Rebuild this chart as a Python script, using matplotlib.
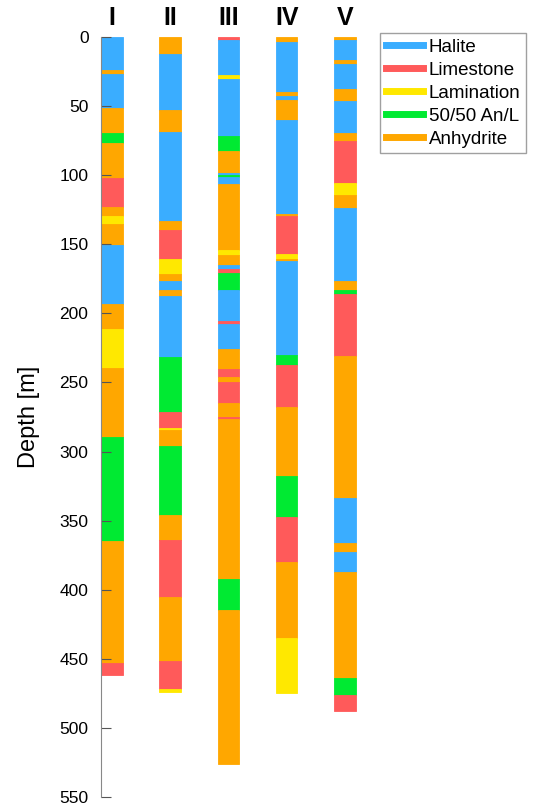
import matplotlib.pyplot as plt
from matplotlib.lines import Line2D

plt.rcParams['font.family'] = ['Liberation Sans', 'DejaVu Sans']

colors = {'H': '#3aadff', 'L': '#ff5a5a', 'Y': '#ffe800', 'G': '#00ea32', 'A': '#ffa700'}
names = {'H': 'Halite', 'L': 'Limestone', 'Y': 'Lamination', 'G': '50/50 An/L', 'A': 'Anhydrite'}

wells = ['I', 'II', 'III', 'IV', 'V']

# layer boundaries [m] and lithology per layer
depth_I = [0, 23.9, 26.5, 51.6, 69.4, 76.9, 101.9, 122.9, 129.4, 135.4, 150.8,
           193.3, 211, 239.5, 289.6, 364.6, 453.3, 461.9]
lith_I = 'HAHAGALAYAHAYAGAL'

depth_II = [0, 12.3, 53, 68.4, 132.8, 139.5, 160.5, 171.6, 176.4, 182.9, 187.7,
            231.3, 271.1, 282.7, 284.6, 296.1, 346, 363.9, 405, 451.9, 471.6, 474]
lith_II = 'AHAHALYAHAHGLYAGALALY'

depth_III = [0, 1.9, 27.5, 30.4, 71.3, 82.7, 98.1, 100, 101.4, 106.5, 154, 158,
             165, 168.2, 171.1, 182.9, 205.8, 207.5, 225.5, 240.5, 245.8, 249.4,
             264.6, 274.7, 276.4, 392.3, 414.5, 526.3]
lith_III = 'LHYHGAHGHAYAHLGHLHALALALAGA'

depth_IV = [0, 3.4, 39.5, 42.4, 45.5, 60.2, 128, 129.9, 157.1, 160.5, 162, 230.1,
            237.6, 267.5, 317.6, 347.7, 379.8, 435.2, 475]
lith_IV = 'AHAHAHALYAHGLAGLAY'

depth_V = [0, 2.2, 16.6, 19.3, 37.8, 46, 69.4, 75.2, 105.3, 114.7, 123.4, 176.9,
           183.4, 186, 230.6, 333.5, 366.5, 373, 387.5, 464, 476, 488]
lith_V = 'AHAHAHALYAHAGLAHAHAGL'

depths = [depth_I, depth_II, depth_III, depth_IV, depth_V]
liths = [lith_I, lith_II, lith_III, lith_IV, lith_V]

W, H = 533, 805
fig = plt.figure(figsize=(W / 100, H / 100), dpi=100)
y0, y1 = 37, 797
ax = fig.add_axes([101 / W, 1 - y1 / H, (372 - 101) / W, (y1 - y0) / H])

step = 58.3
bw = 21.5 / step
for i, (d, lt) in enumerate(zip(depths, liths)):
    for k, code in enumerate(lt):
        ax.bar(i, d[k + 1] - d[k], bottom=d[k], width=bw, align='edge',
               color=colors[code], linewidth=0.6, edgecolor=colors[code])
    ax.text(i + bw / 2, -14, wells[i], ha='center', va='center',
            fontsize=18, fontweight='bold', clip_on=False)

ax.set_ylim(550, 0)
ax.set_xlim(0, (372 - 101) / step)
ax.set_yticks(range(0, 551, 50))
ax.set_xticks([])
for s in ['top', 'right', 'bottom']:
    ax.spines[s].set_visible(False)
ax.spines['left'].set_color('#888888')
ax.tick_params(axis='y', direction='in', length=7, color='#555555',
               labelsize=12.5, pad=9)
ax.set_ylabel('Depth [m]', fontsize=17, labelpad=14)

handles = [Line2D([0], [0], color=colors[c], lw=5) for c in 'HLYGA']
fig.legend(handles, [names[c] for c in 'HLYGA'], loc='upper left',
           bbox_to_anchor=(380 / W, 1 - 33 / H), fontsize=13.5, frameon=True,
           fancybox=False, edgecolor='#888888', handlelength=2.0,
           handletextpad=0.3, labelspacing=0.31, borderpad=0.3, borderaxespad=0)

fig.savefig('out.png', dpi=100)
